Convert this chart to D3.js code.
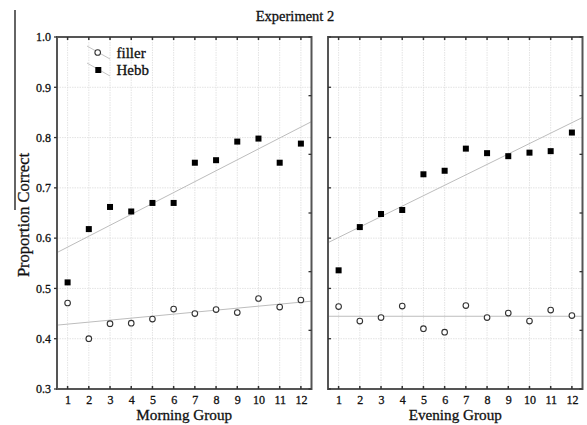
<!DOCTYPE html>
<html><head><meta charset="utf-8">
<script src="https://cdn.jsdelivr.net/npm/d3@7"></script>
<style>body{margin:0;background:#fff}svg{display:block}text{font-family:"Liberation Serif","Times New Roman",serif !important;fill:#111;stroke:#111;stroke-width:0.3px}</style>
</head><body>
<svg id="c" width="587" height="425"></svg>
<script>
const sessions = [1,2,3,4,5,6,7,8,9,10,11,12];
const yTicks = [0.3,0.4,0.5,0.6,0.7,0.8,0.9,1.0];
const morningHebb   = [0.512,0.618,0.662,0.653,0.670,0.670,0.750,0.755,0.792,0.798,0.750,0.788];
const morningFiller = [0.471,0.400,0.430,0.431,0.439,0.459,0.450,0.458,0.452,0.480,0.463,0.477];
const eveningHebb   = [0.536,0.622,0.648,0.656,0.727,0.734,0.778,0.769,0.763,0.770,0.773,0.810];
const eveningFiller = [0.464,0.435,0.442,0.465,0.420,0.413,0.466,0.442,0.451,0.435,0.457,0.446];
const groups = ["Morning Group","Evening Group"];
const seriesNames = ["filler","Hebb"];

(function(){
const FONT = '"Liberation Serif", "Times New Roman", serif';
const svg = d3.select("#c");
const plotTop = 37, plotBottom = 389;
const y = d3.scaleLinear().domain([0.3,1.0]).range([plotBottom, plotTop]);
const panels = [
  {name: groups[0], x0: 57, x1: 311.5, hebb: morningHebb, filler: morningFiller, labels: true},
  {name: groups[1], x0: 328, x1: 582.5, hebb: eveningHebb, filler: eveningFiller, labels: false}
];

function fit(xs, ys){
  const mx = d3.mean(xs), my = d3.mean(ys);
  let sxy=0, sxx=0;
  xs.forEach((v,i)=>{sxy+=(v-mx)*(ys[i]-my); sxx+=(v-mx)*(v-mx);});
  const b = sxy/sxx; return v => my + b*(v-mx);
}

svg.append("text").attr("x",295).attr("y",21).attr("text-anchor","middle")
  .style("font-family",FONT).style("font-size","14.5px").text("Experiment 2");
svg.append("line").attr("x1",15).attr("x2",15).attr("y1",10).attr("y2",210)
  .attr("stroke","#111").attr("stroke-width",1.3);
svg.append("text").attr("transform","translate(29,215) rotate(-90)")
  .attr("text-anchor","middle").style("font-family",FONT).style("font-size","16.5px").text("Proportion Correct");

panels.forEach(p=>{
  const x = d3.scaleLinear().domain([0.5,12.5]).range([p.x0,p.x1]);
  const g = svg.append("g");
  g.selectAll(".vg").data(sessions).join("line")
    .attr("x1",d=>x(d)).attr("x2",d=>x(d)).attr("y1",plotTop).attr("y2",plotBottom)
    .attr("stroke","#dcdcdc").attr("stroke-width",0.8).attr("stroke-dasharray","1.5,1");
  g.selectAll(".hg").data(yTicks.slice(1,-1)).join("line")
    .attr("x1",p.x0).attr("x2",p.x1).attr("y1",d=>y(d)).attr("y2",d=>y(d))
    .attr("stroke","#dcdcdc").attr("stroke-width",0.8).attr("stroke-dasharray","1.5,1");
  [p.filler,p.hebb].forEach(vals=>{
    const f = fit(sessions, vals);
    g.append("line").attr("x1",p.x0).attr("x2",p.x1)
      .attr("y1",y(f(0.5))).attr("y2",y(f(12.5)))
      .attr("stroke","#bdbdbd").attr("stroke-width",1);
  });
  g.append("rect").attr("x",p.x0).attr("y",plotTop).attr("width",p.x1-p.x0).attr("height",plotBottom-plotTop)
    .attr("fill","none").attr("stroke","#555").attr("stroke-width",2);
  const ax = g.append("g").attr("transform",`translate(0,${plotBottom})`)
    .call(d3.axisBottom(x).tickValues(sessions).tickSize(0).tickPadding(6.5).tickFormat(d3.format("d")));
  ax.attr("font-family",null);
  ax.select(".domain").remove();
  ax.selectAll("text").style("font-size","12px").style("font-family",FONT).attr("fill","#111");
  g.selectAll(".tt").data(sessions).join("line")
    .attr("x1",d=>x(d)).attr("x2",d=>x(d)).attr("y1",plotTop).attr("y2",plotTop+3)
    .attr("stroke","#333").attr("stroke-width",1.5);
  g.selectAll(".bt").data(sessions).join("line")
    .attr("x1",d=>x(d)).attr("x2",d=>x(d)).attr("y1",plotBottom).attr("y2",plotBottom-3)
    .attr("stroke","#333").attr("stroke-width",1.5);
  g.selectAll(".lt").data(yTicks).join("line")
    .attr("x1",p.x0-(p.labels?3:0)).attr("x2",p.x0+(p.labels?0:3)).attr("y1",d=>y(d)).attr("y2",d=>y(d))
    .attr("stroke","#333").attr("stroke-width",1.3);
  const yr = d3.scaleLinear().domain([0,6]).range([plotBottom, plotTop]);
  g.selectAll(".rt").data(d3.range(7)).join("line")
    .attr("x1",p.x1-3).attr("x2",p.x1).attr("y1",d=>yr(d)).attr("y2",d=>yr(d))
    .attr("stroke","#333").attr("stroke-width",1.3);
  if(p.labels){
    const ay = g.append("g").attr("transform",`translate(${p.x0},0)`)
      .call(d3.axisLeft(y).tickValues(yTicks).tickSize(0).tickPadding(6).tickFormat(d3.format(".1f")));
    ay.attr("font-family",null);
    ay.select(".domain").remove();
    ay.selectAll("text").style("font-size","12px").style("font-family",FONT).attr("fill","#111");
  }
  g.append("text").attr("x",(p.x0+p.x1)/2).attr("y",420).attr("text-anchor","middle")
    .style("font-family",FONT).style("font-size","15.2px").text(p.name);
  g.selectAll(".fc").data(p.filler).join("circle")
    .attr("cx",(d,i)=>x(sessions[i])).attr("cy",d=>y(d)).attr("r",2.8)
    .attr("fill","#fff").attr("stroke","#333").attr("stroke-width",1.1);
  g.selectAll(".hs").data(p.hebb).join("rect")
    .attr("x",(d,i)=>x(sessions[i])-3).attr("y",d=>y(d)-3).attr("width",6).attr("height",6)
    .attr("fill","#000");
});

const leg = svg.append("g");
[[46,52.5],[63,70]].forEach((r,i)=>{
  leg.append("line").attr("x1",87).attr("y1",r[0]).attr("x2",110).attr("y2",r[0]+13)
    .attr("stroke","#c4c4c4").attr("stroke-width",1);
  if(i===0){
    leg.append("circle").attr("cx",97.7).attr("cy",r[1]).attr("r",2.8)
      .attr("fill","#fff").attr("stroke","#333").attr("stroke-width",1.1);
  } else {
    leg.append("rect").attr("x",95.3).attr("y",r[1]-3).attr("width",6).attr("height",6).attr("fill","#000");
  }
  leg.append("text").attr("x",116.5).attr("y",r[1]+5).style("font-family",FONT).style("font-size","15px").text(seriesNames[i]);
});
})();
</script>
</body></html>
